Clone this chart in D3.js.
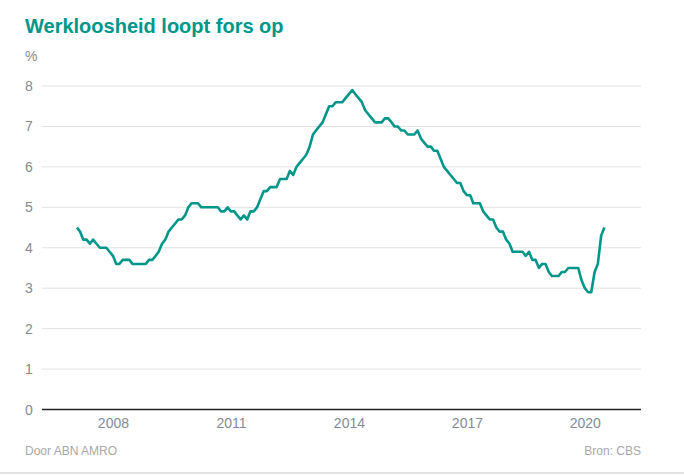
<!DOCTYPE html>
<html>
<head>
<meta charset="utf-8">
<script src="https://cdn.jsdelivr.net/npm/d3@7"></script>
<style>
	body { margin: 0; background: #fff; }
	svg text { font-family: "Liberation Sans", Arial, sans-serif; }
</style>
</head>
<body>
<svg id="chart"></svg>
<script>
// Werkloosheid (%), maandelijks, feb 2007 t/m jul 2020
var startMonth = new Date(2007, 1, 1);
var unemployment = [
	4.5, 4.4, 4.2, 4.2, 4.1, 4.2, 4.1, 4.0, 4.0, 4.0, 3.9,            // 2007
	3.8, 3.6, 3.6, 3.7, 3.7, 3.7, 3.6, 3.6, 3.6, 3.6, 3.6, 3.7,       // 2008
	3.7, 3.8, 3.9, 4.1, 4.2, 4.4, 4.5, 4.6, 4.7, 4.7, 4.8, 5.0,       // 2009
	5.1, 5.1, 5.1, 5.0, 5.0, 5.0, 5.0, 5.0, 5.0, 4.9, 4.9, 5.0,       // 2010
	4.9, 4.9, 4.8, 4.7, 4.8, 4.7, 4.9, 4.9, 5.0, 5.2, 5.4, 5.4,       // 2011
	5.5, 5.5, 5.5, 5.7, 5.7, 5.7, 5.9, 5.8, 6.0, 6.1, 6.2, 6.3,       // 2012
	6.5, 6.8, 6.9, 7.0, 7.1, 7.3, 7.5, 7.5, 7.6, 7.6, 7.6, 7.7,       // 2013
	7.8, 7.9, 7.8, 7.7, 7.6, 7.4, 7.3, 7.2, 7.1, 7.1, 7.1, 7.2,       // 2014
	7.2, 7.1, 7.0, 7.0, 6.9, 6.9, 6.8, 6.8, 6.8, 6.9, 6.7, 6.6,       // 2015
	6.5, 6.5, 6.4, 6.4, 6.2, 6.0, 5.9, 5.8, 5.7, 5.6, 5.6, 5.4,       // 2016
	5.3, 5.3, 5.1, 5.1, 5.1, 4.9, 4.8, 4.7, 4.7, 4.5, 4.4, 4.4,       // 2017
	4.2, 4.1, 3.9, 3.9, 3.9, 3.9, 3.8, 3.9, 3.7, 3.7, 3.5, 3.6,       // 2018
	3.6, 3.4, 3.3, 3.3, 3.3, 3.4, 3.4, 3.5, 3.5, 3.5, 3.5, 3.2,       // 2019
	3.0, 2.9, 2.9, 3.4, 3.6, 4.3, 4.5                                 // 2020
];
var yTicks = [0, 1, 2, 3, 4, 5, 6, 7, 8];
var xTickYears = [2008, 2011, 2014, 2017, 2020];

var width = 684,
	height = 476;

var teal = '#00978a';

var data = unemployment.map(function(v, i) {
	return { date: d3.timeMonth.offset(startMonth, i), value: v };
});

var svg = d3.select('#chart')
	.attr('width', width)
	.attr('height', height);

var x = d3.scaleTime()
	.domain([new Date(2006, 2, 13), new Date(2021, 5, 6)])
	.range([42, 641]);

var y = d3.scaleLinear()
	.domain([0, 8])
	.range([409.5, 86]);

// titel
svg.append('text')
	.attr('x', 25)
	.attr('y', 33)
	.attr('fill', teal)
	.style('font-size', '20px')
	.style('font-weight', 'bold')
	.text('Werkloosheid loopt fors op');

svg.append('text')
	.attr('x', 25)
	.attr('y', 61)
	.attr('fill', '#858b94')
	.style('font-size', '14px')
	.text('%');

// gridlijnen
svg.append('g')
	.selectAll('line')
	.data(yTicks.filter(function(d) { return d > 0; }))
	.enter()
	.append('line')
	.attr('x1', 42)
	.attr('x2', 641)
	.attr('y1', function(d) { return y(d); })
	.attr('y2', function(d) { return y(d); })
	.attr('stroke', '#e3e3e3')
	.attr('stroke-width', 1);

svg.append('g')
	.selectAll('text')
	.data(yTicks)
	.enter()
	.append('text')
	.attr('x', 25)
	.attr('y', function(d) { return y(d); })
	.attr('dy', '0.36em')
	.attr('fill', '#858b94')
	.style('font-size', '14px')
	.text(function(d) { return d; });

// x-as
var xAxis = d3.axisBottom(x)
	.tickValues(xTickYears.map(function(yr) { return new Date(yr, 0, 1); }))
	.tickFormat(d3.timeFormat('%Y'))
	.tickSize(0)
	.tickPadding(9);

var gx = svg.append('g')
	.attr('transform', 'translate(0,' + y(0) + ')')
	.call(xAxis);
gx.select('.domain').remove();
gx.selectAll('text')
	.attr('fill', '#858b94')
	.style('font-family', '"Liberation Sans", Arial, sans-serif')
	.style('font-size', '14px');

svg.append('line')
	.attr('x1', 42)
	.attr('x2', 641)
	.attr('y1', y(0))
	.attr('y2', y(0))
	.attr('stroke', '#222')
	.attr('stroke-width', 1.3);

// lijn
var line = d3.line()
	.x(function(d) { return x(d.date); })
	.y(function(d) { return y(d.value); });

svg.append('path')
	.datum(data)
	.attr('d', line)
	.attr('fill', 'none')
	.attr('stroke', teal)
	.attr('stroke-width', 2.6)
	.attr('stroke-linejoin', 'round');

// voetnoot
svg.append('text')
	.attr('x', 25)
	.attr('y', 455)
	.attr('fill', '#a8a8a8')
	.style('font-size', '12px')
	.text('Door ABN AMRO');

svg.append('text')
	.attr('x', 641)
	.attr('y', 455)
	.attr('text-anchor', 'end')
	.attr('fill', '#a8a8a8')
	.style('font-size', '12px')
	.text('Bron: CBS');

svg.append('rect')
	.attr('x', 0)
	.attr('y', 472)
	.attr('width', width)
	.attr('height', 2)
	.attr('fill', '#e2e2e2');
</script>
</body>
</html>
